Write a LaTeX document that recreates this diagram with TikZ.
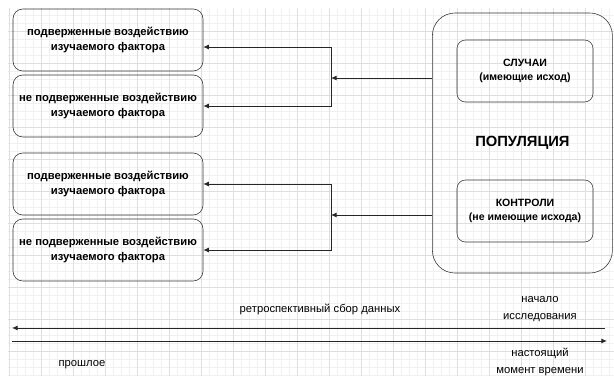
\documentclass[tikz,border=0pt]{standalone}
\usepackage{fontspec}
\setmainfont{Liberation Sans}
\usetikzlibrary{arrows.meta}

\tikzset{
  groupbox/.style={draw=black!80, rounded corners=7pt, minimum width=4.75cm, minimum height=1.55cm,
    inner sep=1pt, align=center, font=\bfseries\fontsize{8}{10}\selectfont},
  popbox/.style={draw=black!80, rounded corners=16pt, minimum width=4.5cm, minimum height=6.5cm,
    font=\bfseries\fontsize{10.5}{12}\selectfont},
  subbox/.style={draw=black!80, rounded corners=6pt, minimum width=3.4cm, minimum height=1.55cm,
    inner sep=1pt, align=center, font=\bfseries\fontsize{7.5}{10}\selectfont},
  timetext/.style={align=center, font=\fontsize{8}{12.5}\selectfont},
  link/.style={draw=black!85, line width=0.6pt, -{Latex[length=4pt,width=3.5pt]}}
}

\begin{document}
\begin{tikzpicture}
  \useasboundingbox (0,0) rectangle (15.35,-9.4);
  % background grid
  \draw[black!6, very thin, xshift=0.225cm, yshift=-0.775cm] (-0.025,0.575) grid[step=0.2] (15.125,-8.625);
  \draw[black!13, very thin, xshift=0.225cm, yshift=-0.775cm] (-0.025,0.575) grid[step=0.8] (15.125,-8.625);

  % exposure groups
  \node[groupbox] (a1) at (2.7,-1.0) {подверженные воздействию\\изучаемого фактора};
  \node[groupbox] (a2) at (2.7,-2.65) {не подверженные воздействию\\изучаемого фактора};
  \node[groupbox] (b1) at (2.7,-4.6) {подверженные воздействию\\изучаемого фактора};
  \node[groupbox] (b2) at (2.7,-6.25) {не подверженные воздействию\\изучаемого фактора};

  % population
  \node[popbox] (pop) at (13.06,-3.575) {ПОПУЛЯЦИЯ};
  \node[subbox] (cases) at (13.125,-1.775) {СЛУЧАИ\\(имеющие исход)};
  \node[subbox] (ctrl) at (13.125,-5.275) {КОНТРОЛИ\\(не имеющие исхода)};

  \coordinate (ja) at (8.275,-1.95);
  \coordinate (jb) at (8.275,-5.375);

  \draw[link] (pop.west |- ja) -- (ja);
  \draw[link] (ja) |- ([yshift=-0.175cm]a1.east);
  \draw[link] (ja) |- (a2.east);

  \draw[link] (pop.west |- jb) -- (jb);
  \draw[link] (jb) |- (b1.east);
  \draw[link] (jb) |- (b2.east);

  % time axis
  \coordinate (past) at (0.3,-8.2);
  \coordinate (start) at (15.125,-8.2);
  \coordinate (from) at (0.3,-8.525);
  \coordinate (now) at (15.175,-8.525);
  \draw[link] (start) -- (past);
  \draw[link] (from) -- (now);

  \node[timetext] (retro) at (8.0,-7.725) {ретроспективный сбор данных};
  \node[timetext] (begin) at (13.5,-7.725) {начало\\исследования};
  \node[timetext] (present) at (13.5,-9.05) {настоящий\\момент времени};
  \node[timetext] (pastlbl) at (2.05,-9.125) {прошлое};
\end{tikzpicture}
\end{document}
